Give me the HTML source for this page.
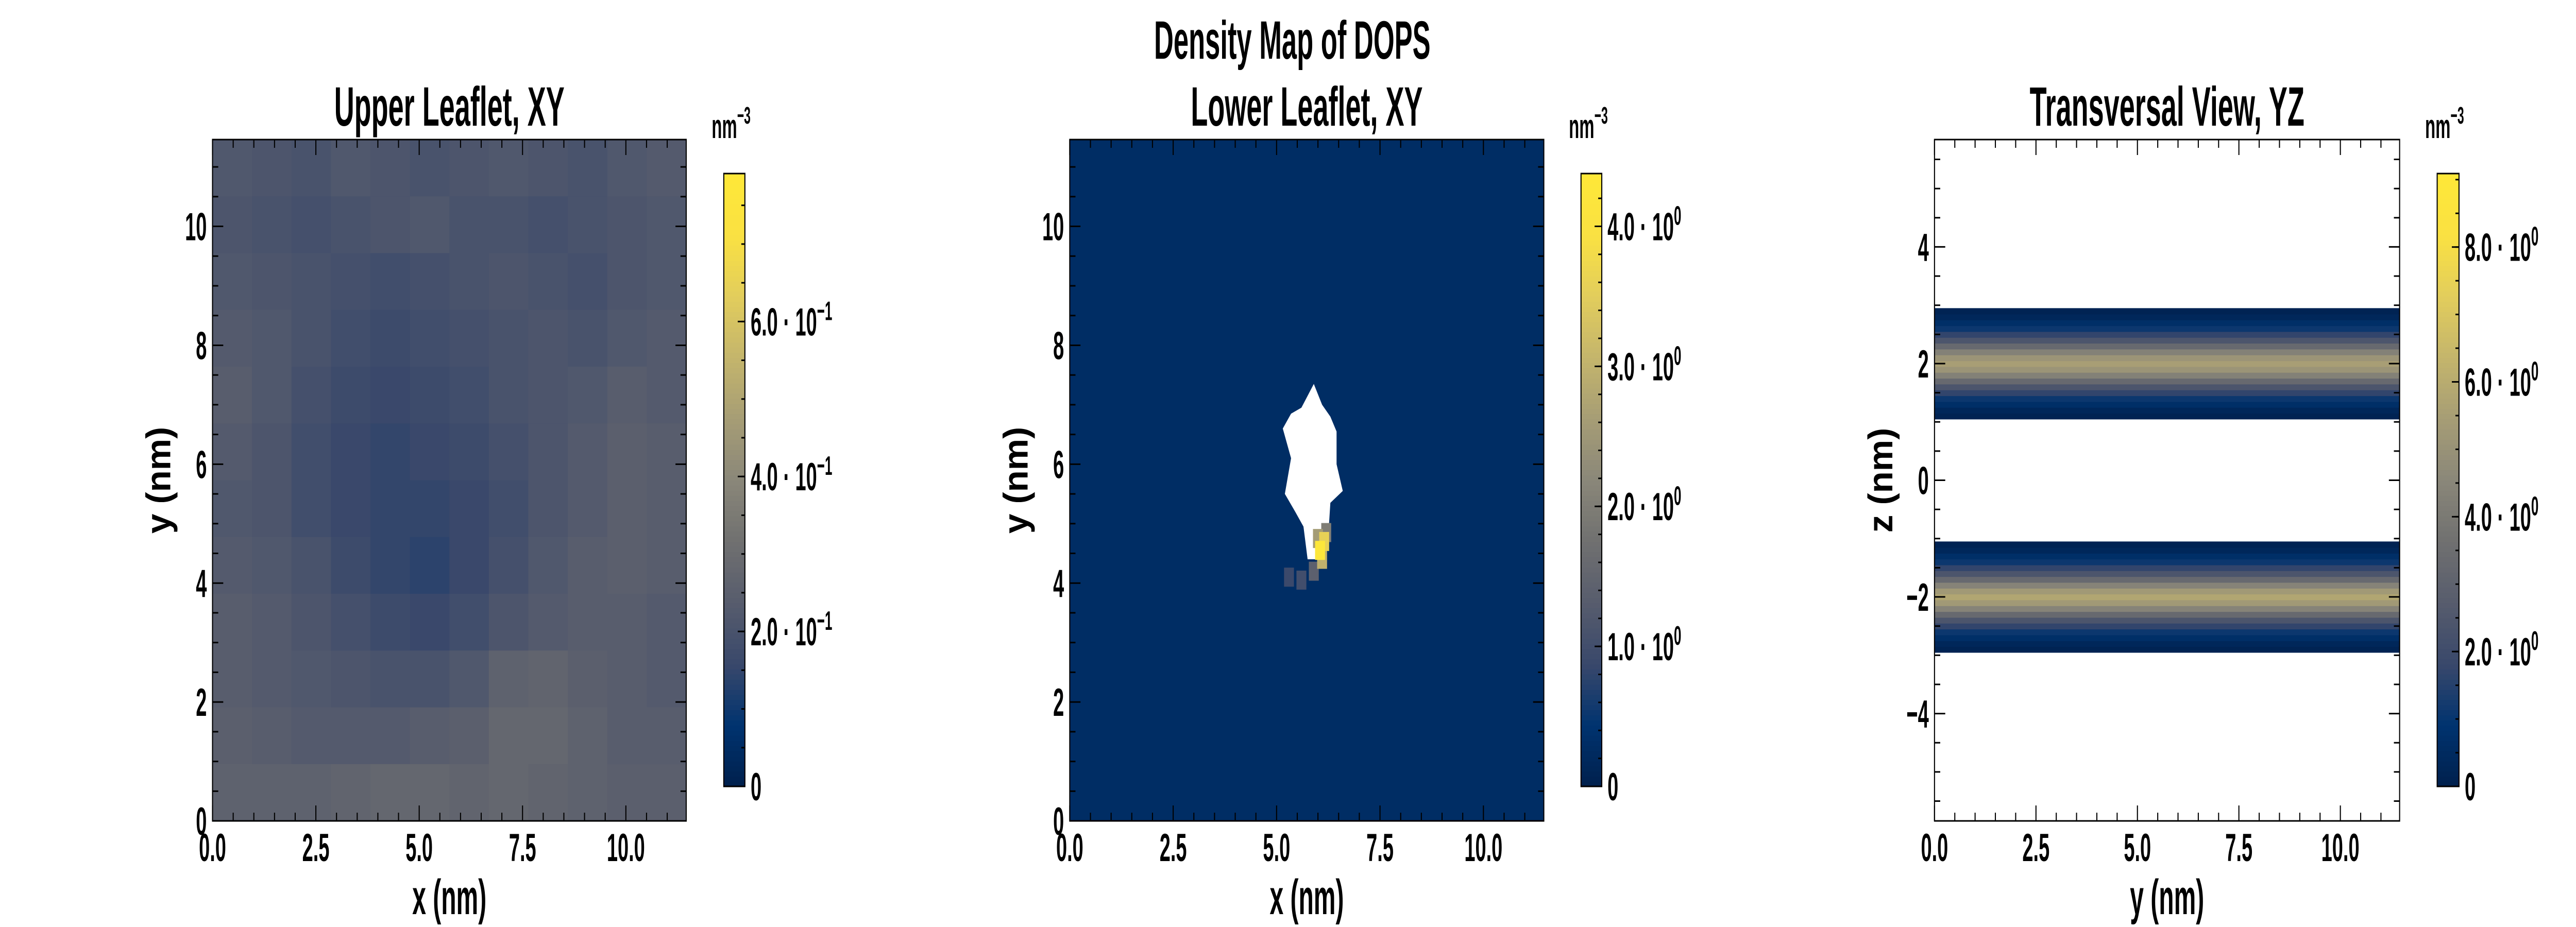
<!DOCTYPE html>
<html><head><meta charset="utf-8"><style>
html,body{margin:0;padding:0;background:#fff;overflow:hidden;}
svg{display:block;width:100vw;height:100vh;}
text{font-family:"Liberation Sans Narrow","Liberation Sans",sans-serif;font-weight:bold;fill:#000;}
</style></head><body>
<svg id="fig" viewBox="0 0 7200 1800" preserveAspectRatio="none" xmlns="http://www.w3.org/2000/svg">
</svg>
<script>
// ---------- data ----------
const boxSize = 11.46;
const upperTicksX = [0, 2.5, 5, 7.5, 10];
const tickLabelsX = ["0.0","2.5","5.0","7.5","10.0"];
const ticksY = [0,2,4,6,8,10];
const ticksZ = [-4,-2,0,2,4];
// upper leaflet coarse density grid (rows top->bottom), nm^-3
const upperGrid = [
[0.22,0.21,0.20,0.22,0.21,0.20,0.21,0.22,0.21,0.20,0.22,0.23],
[0.21,0.20,0.19,0.20,0.21,0.22,0.20,0.20,0.19,0.20,0.21,0.22],
[0.22,0.21,0.20,0.19,0.18,0.19,0.20,0.21,0.20,0.19,0.21,0.22],
[0.23,0.22,0.20,0.18,0.17,0.18,0.19,0.20,0.21,0.20,0.22,0.23],
[0.24,0.22,0.19,0.17,0.16,0.17,0.18,0.20,0.21,0.22,0.24,0.23],
[0.23,0.21,0.18,0.16,0.15,0.16,0.17,0.19,0.21,0.23,0.25,0.24],
[0.22,0.21,0.18,0.16,0.15,0.15,0.16,0.18,0.21,0.23,0.25,0.24],
[0.23,0.22,0.20,0.17,0.15,0.14,0.16,0.19,0.22,0.24,0.25,0.24],
[0.24,0.23,0.21,0.19,0.17,0.16,0.18,0.21,0.23,0.24,0.24,0.23],
[0.24,0.23,0.22,0.21,0.20,0.20,0.22,0.26,0.27,0.25,0.24,0.23],
[0.25,0.24,0.23,0.23,0.23,0.24,0.25,0.28,0.28,0.26,0.24,0.24],
[0.26,0.26,0.26,0.27,0.28,0.28,0.27,0.28,0.27,0.26,0.25,0.25]
];
const lowerBackground = 0.3;
const lowerHoleX = [5.9,6.1,6.3,6.45,6.45,6.6,6.3,6.25,6.05,5.75,5.65,5.45,5.2,5.35,5.15,5.35,5.6];
const lowerHoleY = [7.35,7.0,6.8,6.55,6.0,5.55,5.35,4.8,4.4,4.4,4.95,5.2,5.5,6.1,6.6,6.85,6.95];
const hotX = [6.05,6.15,6.1,6.0,6.2,5.9,5.6,5.3];
const hotY = [4.55,4.7,4.4,4.75,4.85,4.2,4.05,4.1];
const hotV = [4.3,3.6,3.0,2.6,2.0,1.4,1.0,0.9];
const profileOffsets = [-0.9,-0.8,-0.7,-0.6,-0.5,-0.4,-0.3,-0.2,-0.1,0,0.1,0.2,0.3,0.4,0.5,0.6,0.7,0.8,0.9];
const upperProfile = [0.15,0.35,0.7,1.1,1.7,2.4,3.3,4.3,5.1,5.5,5.1,4.3,3.3,2.4,1.7,1.1,0.7,0.35,0.15];
const lowerProfile = [0.15,0.35,0.7,1.1,1.7,2.4,3.3,4.4,5.3,5.8,5.3,4.4,3.3,2.4,1.7,1.1,0.7,0.35,0.15];
const leafletCentres = [2.0,-2.0];
const cbMax = [0.791, 4.377, 9.09];
const cbMajor1 = [0,0.2,0.4,0.6]; const cbLab1 = ["0","2.0 · 10","4.0 · 10","6.0 · 10"]; const cbExp1=["","−1","−1","−1"];
const cbMajor2 = [0,1,2,3,4]; const cbLab2 = ["0","1.0 · 10","2.0 · 10","3.0 · 10","4.0 · 10"]; const cbExp2=["","0","0","0","0"];
const cbMajor3 = [0,2,4,6,8]; const cbLab3 = ["0","2.0 · 10","4.0 · 10","6.0 · 10","8.0 · 10"]; const cbExp3=["","0","0","0","0"];

// ---------- helpers ----------
const NS="http://www.w3.org/2000/svg";
const svg=document.getElementById('fig');
function mk(tag,attrs,parent){const e=document.createElementNS(NS,tag);for(const k in attrs)e.setAttribute(k,attrs[k]);(parent||svg).appendChild(e);return e;}
const SX=0.72;
function T(parent,x,y,size,anchor,str,rot){
  const tr=`translate(${x},${y})`+(rot?` rotate(${rot})`:'')+` scale(${SX},1)`;
  const t=mk('text',{x:0,y:0,'font-size':size,'text-anchor':anchor,transform:tr},parent);t.textContent=str;return t;}
const stops=[[0,[0,32,77]],[0.1,[0,51,111]],[0.2,[57,72,107]],[0.3,[87,92,109]],[0.4,[112,112,112]],[0.5,[138,135,121]],[0.6,[166,157,117]],[0.7,[196,181,108]],[0.8,[226,205,92]],[0.9,[250,225,66]],[1,[254,232,56]]];
function cividis(t){t=Math.max(0,Math.min(1,t));for(let i=1;i<stops.length;i++){if(t<=stops[i][0]){const a=stops[i-1],b=stops[i];const f=(t-a[0])/(b[0]-a[0]);const c=a[1].map((v,j)=>Math.round(v+(b[1][j]-v)*f));return `rgb(${c[0]},${c[1]},${c[2]})`;}}return 'rgb(254,232,56)';}

const sup=T(svg,3612,114,105,'middle','Density Map of DOPS');



const Y0=271,Y1=1594,CBY0=337,CBY1=1527;
const panels=[
 {x0:594,x1:1918,cb0:2023,cb1:2082,title:"Upper Leaflet, XY",xl:"x (nm)",yl:"y (nm)",ymin:0,ymax:boxSize,yt:ticksY,name:"upper"},
 {x0:2990,x1:4315,cb0:4419,cb1:4477,title:"Lower Leaflet, XY",xl:"x (nm)",yl:"y (nm)",ymin:0,ymax:boxSize,yt:ticksY,name:"lower"},
 {x0:5407,x1:6707,cb0:6812,cb1:6873,title:"Transversal View, YZ",xl:"y (nm)",yl:"z (nm)",ymin:-5.84,ymax:5.84,yt:ticksZ,name:"transversal"}
];
panels.forEach(p=>{p.sx=v=>p.x0+(v/boxSize)*(p.x1-p.x0);p.sy=v=>Y1-(v-p.ymin)/(p.ymax-p.ymin)*(Y1-Y0);});

// ---------- panel 1 ----------
(function(){const p=panels[0];const g=mk('g',{});

const n=upperGrid.length,m=upperGrid[0].length;
upperGrid.forEach((row,i)=>row.forEach((v,j)=>{
 const xa=p.sx(j*boxSize/m),xb=p.sx((j+1)*boxSize/m),ya=p.sy(boxSize-i*boxSize/n),yb=p.sy(boxSize-(i+1)*boxSize/n);
 const r=mk('rect',{x:xa,y:ya,width:xb-xa+0.8,height:yb-ya+0.8,fill:cividis(v/cbMax[0])},g);
 
 
}));})();

// ---------- panel 2 ----------
(function(){const p=panels[1];const g=mk('g',{});

const bg=mk('rect',{x:p.x0,y:Y0,width:p.x1-p.x0,height:Y1-Y0,fill:cividis(lowerBackground/cbMax[1])},g);

const pts=lowerHoleX.map((x,i)=>p.sx(x)+','+p.sy(lowerHoleY[i])).join(' ');
const hole=mk('polygon',{points:pts,fill:'#fff'},g);

const cw=(p.x1-p.x0)/boxSize*0.1;
hotX.map((x,i)=>i).sort((a,b)=>hotV[a]-hotV[b]).forEach(i=>{
 const c=mk('rect',{x:p.sx(hotX[i])-cw*1.2,y:p.sy(hotY[i])-cw*1.6,width:cw*2.4,height:cw*3.2,fill:cividis(hotV[i]/cbMax[1])},g);
 
 
});})();

// ---------- panel 3 ----------
(function(){const p=panels[2];const g=mk('g',{});

[upperProfile,lowerProfile].forEach((prof,k)=>{
 prof.forEach((v,i)=>{const z=leafletCentres[k]+profileOffsets[i];
  const ya=p.sy(z+0.05),yb=p.sy(z-0.05);
  const r=mk('rect',{x:p.x0,y:ya,width:p.x1-p.x0,height:yb-ya+0.8,fill:cividis(v/cbMax[2])},g);
  
  
 });});})();

// ---------- axes ----------
panels.forEach((p,pi)=>{
 const g=mk('g',{});
 const ttl=T(g,(p.x0+p.x1)/2,244,108,'middle',p.title);
 
 for(let v=0;v<=boxSize+1e-9;v+=0.5){const x=p.sx(v);const major=Math.abs(v/2.5-Math.round(v/2.5))<1e-6;const L=major?30:16;
  mk('line',{x1:x,y1:Y1,x2:x,y2:Y1-L,stroke:'#000','stroke-width':3},g);mk('line',{x1:x,y1:Y0,x2:x,y2:Y0+L,stroke:'#000','stroke-width':3},g);}
 upperTicksX.forEach((v,i)=>{const t=T(g,p.sx(v),1672,76,'middle',tickLabelsX[i]);
  
  });
 const step=0.5;
 for(let v=Math.ceil(p.ymin/step)*step;v<=p.ymax+1e-9;v+=step){const y=p.sy(v);const major=Math.abs(v/2-Math.round(v/2))<1e-6;const L=major?30:16;
  mk('line',{x1:p.x0,y1:y,x2:p.x0+L,y2:y,stroke:'#000','stroke-width':3},g);mk('line',{x1:p.x1,y1:y,x2:p.x1-L,y2:y,stroke:'#000','stroke-width':3},g);}
 p.yt.forEach(v=>{const t=T(g,p.x0-16,p.sy(v)+27,76,'end',(v<0?'−'+(-v):String(v)));
  
  });
 mk('rect',{x:p.x0,y:Y0,width:p.x1-p.x0,height:Y1-Y0,fill:'none',stroke:'#000','stroke-width':3},g);
 const xl=T(g,(p.x0+p.x1)/2,1775,96,'middle',p.xl);
 
 const yl=mk('text',{x:0,y:0,'font-size':96,'text-anchor':'middle',transform:`translate(${p.x0-118},${(Y0+Y1)/2}) rotate(-90) scale(${SX},1)`},g);yl.textContent=p.yl;
 
 // colorbar
 const cg=mk('g',{},g);
 const N=120;for(let i=0;i<N;i++){const ya=CBY1-(i+1)/N*(CBY1-CBY0);mk('rect',{x:p.cb0,y:ya,width:p.cb1-p.cb0,height:(CBY1-CBY0)/N+1,fill:cividis((i+0.5)/N)},cg);}
 mk('rect',{x:p.cb0,y:CBY0,width:p.cb1-p.cb0,height:CBY1-CBY0,fill:'none',stroke:'#000','stroke-width':3},cg);
 const cy=v=>CBY1-v/cbMax[pi]*(CBY1-CBY0);
 const minor=[0.05,0.2,0.5][pi];
 for(let v=0;v<=cbMax[pi]+1e-9;v+=minor){mk('line',{x1:p.cb1,y1:cy(v),x2:p.cb1-10,y2:cy(v),stroke:'#000','stroke-width':3},cg);}
 const maj=[cbMajor1,cbMajor2,cbMajor3][pi],lab=[cbLab1,cbLab2,cbLab3][pi],ex=[cbExp1,cbExp2,cbExp3][pi];
 maj.forEach((v,i)=>{mk('line',{x1:p.cb1,y1:cy(v),x2:p.cb1-20,y2:cy(v),stroke:'#000','stroke-width':3},cg);
  const t=T(cg,p.cb1+16,cy(v)+27,76,'start',lab[i]);
  if(ex[i]){const s=mk('tspan',{dy:-30,'font-size':52},t);s.textContent=ex[i];}
  
  });
 const u=T(cg,p.cb0-34,268,66,'start','nm');const us=mk('tspan',{dy:-28,'font-size':46},u);us.textContent='−3';
 
});
</script>
</body></html>
